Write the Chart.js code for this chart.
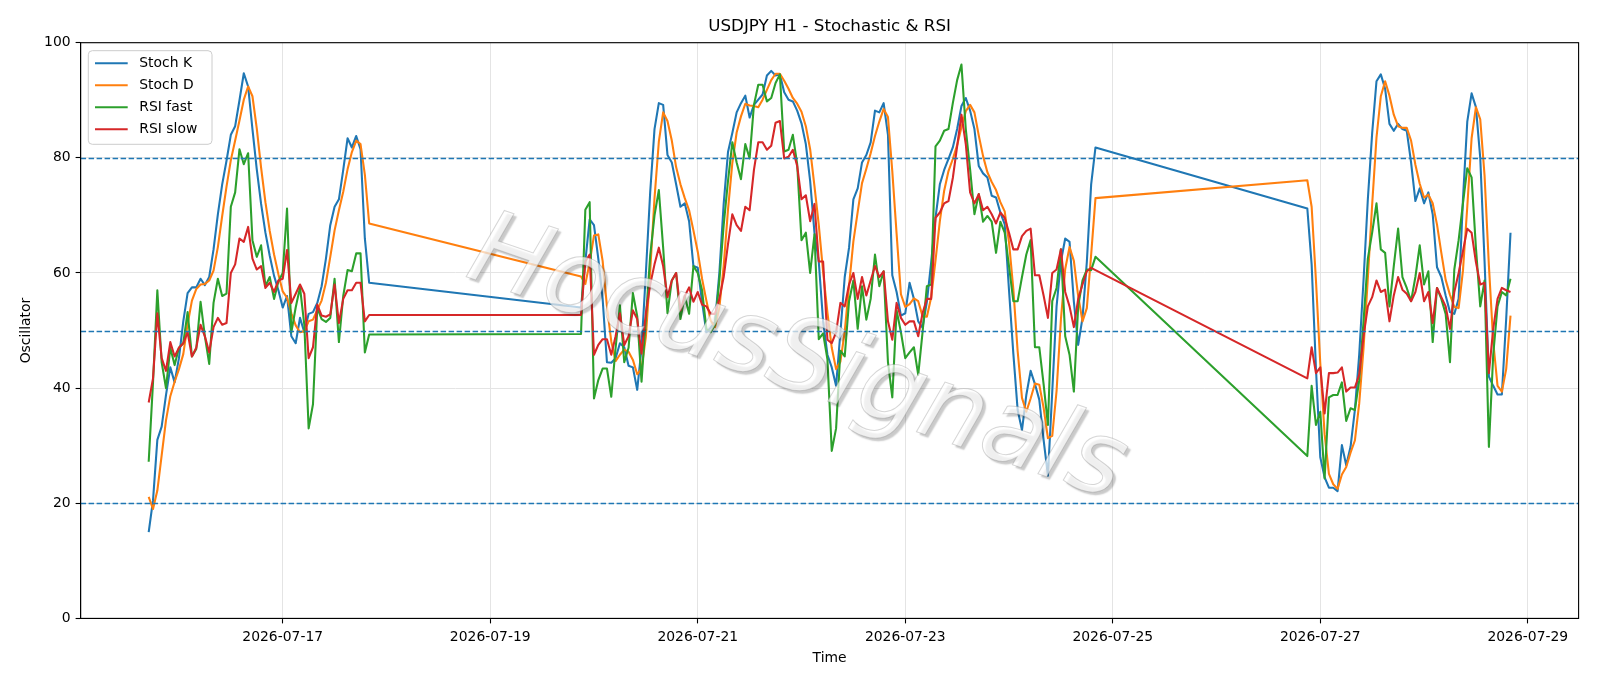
<!DOCTYPE html>
<html>
<head>
<meta charset="utf-8">
<title>USDJPY H1 - Stochastic & RSI</title>
<script src="https://cdn.jsdelivr.net/npm/chart.js@4.4.1/dist/chart.umd.min.js"></script>
<style>
  html, body { margin: 0; padding: 0; background: #fff; }
  canvas { display: block; }
</style>
</head>
<body>
<canvas id="chartOsc" width="1600" height="686"></canvas>
<script>
// ── Datos ────────────────────────────────────────────────────────────────
// velas H1, tres sesiones (los fines de semana no tienen datos)
const SESSION_START = ["2026-07-15T17:00:00Z", "2026-07-19T21:00:00Z", "2026-07-26T21:00:00Z"];
const SESSION_HOURS = [52, 120, 48];

const stochK = [
  // 15-jul 17:00 -> 17-jul 20:00
  15.0, 20.5, 31.0, 33.3, 38.8, 43.6, 41.0, 45.2, 51.6, 56.5, 57.5, 57.5, 59.0, 57.9, 59.3, 64.1,
  70.2, 75.4, 79.5, 84.0, 85.5, 90.0, 94.7, 92.4, 85.0, 78.0, 72.0, 67.0, 63.0, 59.5, 57.0, 54.0,
  56.0, 49.0, 47.8, 52.2, 49.7, 52.9, 53.2, 54.8, 57.7, 62.5, 68.3, 71.5, 72.8, 77.9, 83.4, 81.8,
  83.8, 81.5, 66.0, 58.3,
  // 19-jul 21:00 -> 24-jul 20:00
  54.0, 62.0, 69.3, 68.3, 62.5, 55.5, 44.5, 44.4, 45.2, 47.8, 47.1, 43.9, 43.6, 39.7, 47.0, 60.0,
  74.0, 85.0, 89.5, 89.2, 80.5, 79.2, 75.4, 71.5, 72.1, 69.0, 61.2, 60.9, 55.0, 49.7, 50.5, 51.5,
  60.0, 72.0, 81.0, 84.3, 87.9, 89.5, 90.8, 87.0, 89.2, 90.1, 91.0, 94.3, 95.1, 94.3, 94.5, 91.4,
  90.1, 89.8, 88.2, 86.0, 82.4, 76.0, 67.0, 61.9, 51.6, 45.8, 43.6, 40.4, 49.7, 59.3, 64.4, 72.8,
  74.7, 79.2, 80.5, 82.7, 88.2, 87.9, 89.5, 84.0, 59.6, 56.7, 52.6, 53.0, 58.3, 55.5, 51.6, 50.5,
  55.0, 61.9, 69.6, 75.4, 77.9, 79.8, 81.8, 85.0, 89.0, 90.4, 88.2, 85.0, 78.6, 77.3, 76.6, 73.4,
  73.1, 70.5, 68.5, 57.0, 46.0, 36.2, 32.7, 38.8, 43.0, 40.7, 38.0, 31.0, 24.8, 39.4, 54.2, 62.0,
  66.0, 65.4, 55.0, 47.5, 52.2, 61.9, 75.4, 81.8,
  // 26-jul 21:00 -> 28-jul 20:00
  71.2, 61.5, 43.4, 28.0, 24.5, 22.7, 22.7, 22.1, 30.1, 26.6, 29.8, 36.2, 45.8, 58.7, 72.8, 84.3,
  93.3, 94.5, 92.0, 85.9, 84.7, 85.9, 85.0, 84.7, 79.2, 72.5, 74.7, 72.1, 74.0, 70.2, 61.0, 59.3,
  56.1, 53.2, 52.9, 55.5, 72.8, 86.3, 91.2, 88.8, 80.0, 62.0, 42.0, 40.4, 38.9, 38.9, 52.0, 67.0,
];

const stochD = [
  21.1, 19.0, 22.2, 28.3, 34.4, 38.6, 41.1, 43.3, 45.9, 51.1, 55.2, 57.2, 58.0, 58.1, 58.7, 60.4,
  64.5, 69.9, 75.0, 79.6, 83.0, 86.5, 90.1, 92.4, 90.7, 85.1, 78.3, 72.3, 67.3, 63.2, 59.8, 56.8,
  55.7, 53.0, 50.9, 49.7, 49.9, 51.6, 51.9, 53.6, 55.2, 58.3, 62.8, 67.4, 70.9, 74.1, 78.0, 81.0,
  83.0, 82.4, 77.1, 68.6,

  59.4, 58.1, 61.8, 66.5, 66.7, 62.1, 54.2, 48.1, 44.7, 45.8, 46.7, 46.3, 44.9, 42.4, 43.4, 48.9,
  60.3, 73.0, 82.8, 87.9, 86.4, 83.0, 78.4, 75.4, 73.0, 70.9, 67.4, 63.7, 59.0, 55.2, 51.7, 50.6,
  54.0, 61.2, 71.0, 79.1, 84.4, 87.2, 89.4, 89.1, 89.0, 88.8, 90.1, 91.8, 93.5, 94.6, 94.6, 93.4,
  92.0, 90.4, 89.4, 88.0, 85.5, 81.5, 75.1, 68.3, 60.2, 53.1, 47.0, 43.3, 44.6, 49.8, 57.8, 65.5,
  70.6, 75.6, 78.1, 80.8, 83.8, 86.3, 88.5, 87.1, 77.7, 66.8, 56.3, 54.1, 54.6, 55.6, 55.1, 52.5,
  52.4, 55.8, 62.2, 69.0, 74.3, 77.7, 79.8, 82.2, 85.3, 88.1, 89.2, 87.9, 83.9, 80.3, 77.5, 75.8,
  74.4, 72.3, 70.7, 65.3, 57.2, 46.4, 38.3, 35.9, 38.2, 40.8, 40.6, 36.6, 31.3, 31.7, 39.5, 51.9,
  60.7, 64.5, 62.1, 56.0, 51.6, 53.9, 63.2, 73.0,

  76.1, 71.5, 58.7, 44.3, 32.0, 25.1, 23.3, 22.5, 25.0, 26.3, 28.8, 30.9, 37.3, 46.9, 59.1, 71.9,
  83.5, 90.7, 93.3, 90.8, 87.5, 85.5, 85.2, 85.2, 83.0, 78.8, 75.5, 73.1, 73.6, 72.1, 68.4, 63.5,
  58.8, 56.2, 54.1, 53.9, 60.4, 71.5, 83.4, 88.8, 86.7, 76.9, 61.3, 48.1, 40.4, 39.4, 43.3, 52.6,
];

const rsiFast = [
  27.2, 41.0, 57.0, 44.5, 40.0, 47.0, 44.0, 47.0, 47.8, 53.2, 45.5, 46.8, 55.0, 49.0, 44.2, 54.8,
  59.0, 56.0, 56.4, 71.5, 74.0, 81.5, 78.9, 80.8, 65.7, 62.8, 64.8, 57.7, 59.3, 55.5, 58.5, 60.0,
  71.2, 49.7, 54.0, 57.5, 51.0, 33.0, 37.2, 54.0, 52.0, 51.5, 52.2, 59.0, 48.0, 56.0, 60.5, 60.3,
  63.4, 63.4, 46.2, 49.3,

  49.4, 71.0, 72.3, 38.2, 41.4, 43.4, 43.4, 38.5, 47.0, 54.4, 44.5, 47.0, 56.5, 52.5, 41.1, 52.0,
  63.0, 70.0, 74.4, 64.4, 53.0, 58.7, 60.0, 52.0, 56.0, 52.9, 61.2, 60.0, 57.0, 50.3, 49.7, 51.0,
  58.7, 68.3, 76.0, 82.7, 79.2, 76.3, 82.4, 79.9, 89.2, 92.7, 92.7, 89.8, 90.4, 93.0, 94.5, 81.1,
  81.4, 84.0, 78.9, 65.7, 67.0, 60.0, 66.7, 48.5, 49.5, 45.0, 29.1, 33.0, 46.5, 45.5, 55.1, 58.7,
  50.3, 57.7, 51.9, 55.5, 63.2, 57.7, 60.3, 44.5, 38.4, 53.5, 49.7, 45.2, 46.2, 47.1, 42.3, 49.7,
  57.7, 58.0, 82.0, 83.0, 84.7, 85.0, 89.5, 93.5, 96.2, 85.0, 78.0, 70.2, 73.7, 68.9, 69.9, 68.9,
  63.5, 68.9, 67.0, 61.2, 55.1, 55.1, 59.3, 63.2, 65.7, 47.1, 47.1, 40.7, 33.6, 55.1, 57.4, 64.1,
  49.0, 45.8, 39.4, 54.2, 58.7, 60.6, 60.5, 62.8,

  28.2, 40.4, 33.6, 35.9, 24.3, 38.4, 38.8, 38.8, 41.0, 34.3, 36.5, 36.2, 41.3, 51.6, 62.5, 67.0,
  72.1, 64.1, 63.5, 54.2, 61.2, 67.7, 59.3, 57.4, 55.1, 59.3, 64.8, 58.0, 60.3, 48.0, 57.4, 55.5,
  52.9, 44.5, 60.6, 65.7, 72.1, 78.2, 76.6, 64.4, 54.2, 58.7, 29.8, 45.8, 54.2, 56.7, 56.1, 59.0,
];

const rsiSlow = [
  37.5, 41.7, 53.0, 45.2, 43.0, 48.0, 45.5, 47.0, 47.8, 49.7, 45.5, 47.0, 51.0, 49.0, 46.2, 50.6,
  52.2, 51.0, 51.3, 60.0, 61.5, 66.0, 65.4, 68.0, 62.5, 60.6, 61.2, 57.4, 58.3, 56.7, 58.7, 59.0,
  64.0, 54.8, 56.4, 58.0, 56.4, 45.2, 47.1, 54.5, 52.6, 52.4, 52.8, 58.0, 51.3, 55.5, 57.0, 57.0,
  58.3, 58.3, 51.6, 52.7,

  52.7, 62.0, 63.2, 45.8, 47.5, 48.5, 48.5, 45.8, 49.0, 53.0, 47.5, 49.0, 53.5, 52.0, 46.0, 53.0,
  58.0, 61.5, 64.4, 61.2, 55.8, 58.7, 60.0, 53.5, 56.0, 57.5, 55.0, 56.7, 54.5, 54.2, 52.9, 52.9,
  55.5, 59.3, 65.0, 70.2, 68.3, 67.3, 71.5, 70.9, 77.9, 82.7, 82.7, 81.4, 82.1, 86.1, 86.4, 79.9,
  80.2, 81.4, 78.6, 72.8, 73.5, 69.0, 72.0, 62.0, 62.0, 48.4, 47.8, 49.7, 54.8, 54.2, 58.0, 60.0,
  55.5, 59.3, 56.1, 58.7, 61.2, 59.3, 60.3, 51.6, 48.4, 54.8, 52.2, 51.0, 51.6, 51.6, 49.0, 53.0,
  55.5, 55.5, 69.6, 70.5, 72.1, 72.5, 76.5, 82.0, 87.5, 82.4, 74.0, 72.1, 73.7, 70.9, 71.5, 70.2,
  68.6, 70.5, 69.6, 67.0, 64.1, 64.1, 66.4, 67.3, 67.7, 59.6, 59.6, 56.1, 52.2, 60.0, 60.6, 64.1,
  56.7, 54.2, 50.6, 55.5, 58.0, 60.3, 60.9, 60.5,

  41.7, 47.1, 42.6, 43.6, 35.6, 42.6, 42.6, 42.7, 43.6, 39.4, 40.1, 40.1, 42.3, 49.0, 54.2, 55.8,
  58.7, 56.7, 57.1, 51.6, 56.1, 59.3, 57.1, 56.4, 55.1, 56.7, 60.0, 55.1, 56.7, 51.3, 57.4, 55.8,
  54.2, 50.3, 56.7, 60.0, 63.8, 67.7, 67.0, 61.9, 58.0, 58.3, 42.6, 50.3, 55.5, 57.4, 57.0, 56.7,
];

const TICK_DATES = ["2026-07-17", "2026-07-19", "2026-07-21", "2026-07-23", "2026-07-25", "2026-07-27", "2026-07-29"];
const LEVELS = [20, 50, 80];

const TITLE = "USDJPY H1 - Stochastic & RSI";
const WATERMARK = "HocusSignals";

// ── Helpers ──────────────────────────────────────────────────────────────
const HOUR = 3600 * 1000;
const FONT = '"DejaVu Sans", "Liberation Sans", sans-serif';
const GRID = "#e4e4e4";

const times = [];
SESSION_START.forEach((s, i) => {
  const t0 = Date.parse(s);
  for (let k = 0; k < SESSION_HOURS[i]; k++) times.push(t0 + k * HOUR);
});

const serie = (vals) => times.map((t, i) => ({ x: t, y: vals[i] }));

// margen de 5% como matplotlib
const span = times[times.length - 1] - times[0];
const xMin = times[0] - 0.05 * span;
const xMax = times[times.length - 1] + 0.05 * span;

const SERIES = [
  { label: "Stoch K",  data: stochK,  color: "#1f77b4" },
  { label: "Stoch D",  data: stochD,  color: "#ff7f0e" },
  { label: "RSI fast", data: rsiFast, color: "#2ca02c" },
  { label: "RSI slow", data: rsiSlow, color: "#d62728" },
];

// ── Extras: niveles, marca de agua, marco, leyenda, titulo ─────────────
const extras = {
  id: "extras",
  afterDatasetsDraw(chart) {
    const { ctx, chartArea: ca, scales } = chart;

    // lineas de nivel
    ctx.save();
    ctx.strokeStyle = "#1f77b4";
    ctx.lineWidth = 1.3;
    ctx.setLineDash([5.5, 2.5]);
    LEVELS.forEach((lv) => {
      const y = Math.round(scales.y.getPixelForValue(lv)) + 0.5;
      ctx.beginPath();
      ctx.moveTo(ca.left, y);
      ctx.lineTo(ca.right, y);
      ctx.stroke();
    });
    ctx.restore();

    // marca de agua
    ctx.save();
    const cx = ca.left + (ca.right - ca.left) * 0.478;
    const cy = ca.top + (ca.bottom - ca.top) * 0.555;
    ctx.translate(cx, cy);
    ctx.rotate((19 * Math.PI) / 180);
    ctx.font = "oblique 103px " + FONT;
    ctx.textAlign = "center";
    ctx.textBaseline = "middle";
    ctx.shadowColor = "rgba(0,0,0,0.3)";
    ctx.shadowOffsetX = 3;
    ctx.shadowOffsetY = 3;
    ctx.shadowBlur = 1.5;
    ctx.fillStyle = "rgba(255,255,255,0.7)";
    ctx.fillText(WATERMARK, 0, 0);
    ctx.shadowColor = "transparent";
    ctx.strokeStyle = "rgba(120,120,120,0.3)";
    ctx.lineWidth = 1;
    ctx.strokeText(WATERMARK, 0, 0);
    ctx.restore();
  },
  afterDraw(chart) {
    const { ctx, chartArea: ca } = chart;

    // marco completo
    ctx.save();
    ctx.strokeStyle = "#000";
    ctx.lineWidth = 1.1;
    ctx.strokeRect(ca.left, ca.top, ca.right - ca.left, ca.bottom - ca.top);
    ctx.restore();

    // titulo
    ctx.save();
    ctx.font = "16.7px " + FONT;
    ctx.fillStyle = "#000";
    ctx.textAlign = "center";
    ctx.textBaseline = "alphabetic";
    ctx.fillText(TITLE, (ca.left + ca.right) / 2, 30.5);
    ctx.restore();

    // leyenda
    const bx = ca.left + 7.7, by = ca.top + 8, bw = 123.7, bh = 93.6;
    ctx.save();
    ctx.beginPath();
    ctx.roundRect(bx, by, bw, bh, 4);
    ctx.fillStyle = "rgba(255,255,255,0.8)";
    ctx.fill();
    ctx.strokeStyle = "#cccccc";
    ctx.lineWidth = 1;
    ctx.stroke();
    ctx.font = "13.9px " + FONT;
    ctx.textBaseline = "middle";
    chart.data.datasets.forEach((ds, i) => {
      const y = by + 12.6 + i * 22;
      ctx.strokeStyle = ds.borderColor;
      ctx.lineWidth = 2.08;
      ctx.beginPath();
      ctx.moveTo(bx + 6.7, y);
      ctx.lineTo(bx + 39.4, y);
      ctx.stroke();
      ctx.fillStyle = "#000";
      ctx.fillText(ds.label, bx + 51, y + 0.5);
    });
    ctx.restore();
  },
};

// ── Grafica ──────────────────────────────────────────────────────────────
const tickFont = { family: FONT, size: 13.9 };

new Chart(document.getElementById("chartOsc"), {
  type: "line",
  data: {
    datasets: SERIES.map((s, i) => ({
      label: s.label,
      data: serie(s.data),
      borderColor: s.color,
      backgroundColor: s.color,
      borderWidth: 2.08,
      borderJoinStyle: "round",
      pointRadius: 0,
      fill: false,
      tension: 0,
      order: SERIES.length - i,
    })),
  },
  options: {
    responsive: false,
    animation: false,
    devicePixelRatio: 1,
    events: [],
    layout: { padding: { top: 42.7, right: 21.4, bottom: 0, left: 0 } },
    plugins: {
      legend: { display: false },
      title: { display: false },
      tooltip: { enabled: false },
    },
    scales: {
      x: {
        type: "linear",
        min: xMin,
        max: xMax,
        afterBuildTicks: (scale) => {
          scale.ticks = TICK_DATES.map((d) => ({ value: Date.parse(d + "T00:00:00Z") }));
        },
        afterFit: (scale) => { scale.height = 67.6; },
        ticks: {
          callback: (v) => new Date(v).toISOString().slice(0, 10),
          font: tickFont,
          color: "#000",
          padding: 5.5,
          maxRotation: 0,
          autoSkip: false,
        },
        grid: { color: GRID, lineWidth: 1, tickColor: "#000", tickLength: 5, tickWidth: 1.1 },
        border: { display: true, color: "#000", width: 1.1 },
        title: {
          display: true,
          text: "Time",
          font: tickFont,
          color: "#000",
          padding: { top: 0, bottom: 19.7 },
        },
      },
      y: {
        min: 0,
        max: 100,
        afterFit: (scale) => { scale.width = 80.6; },
        ticks: { stepSize: 20, font: tickFont, color: "#000", padding: 5 },
        grid: { color: GRID, lineWidth: 1, tickColor: "#000", tickLength: 5, tickWidth: 1.1 },
        border: { display: true, color: "#000", width: 1.1 },
        title: {
          display: true,
          text: "Oscillator",
          font: tickFont,
          color: "#000",
          padding: { top: 18.2, bottom: 0 },
        },
      },
    },
  },
  plugins: [extras],
});
</script>
</body>
</html>
